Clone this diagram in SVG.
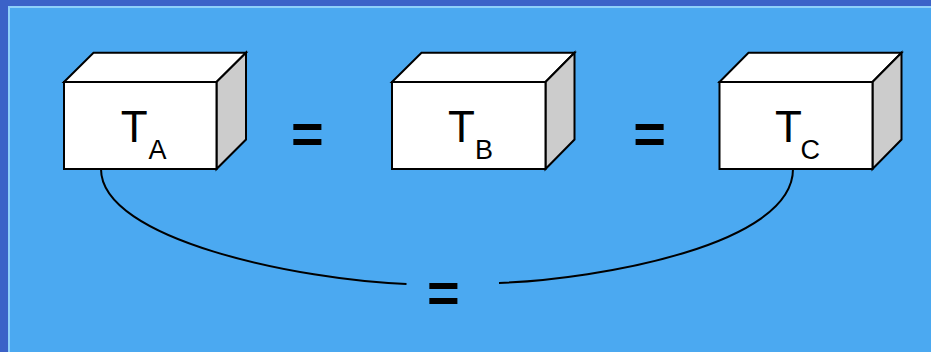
<svg xmlns="http://www.w3.org/2000/svg" width="931" height="352" viewBox="0 0 931 352">
<style>
.front{fill:#ffffff;stroke:#000;stroke-width:2;stroke-linejoin:miter}
.top{fill:#ffffff;stroke:#000;stroke-width:2;stroke-linejoin:miter}
.side{fill:#cccccc;stroke:#000;stroke-width:2;stroke-linejoin:miter}
.t{font-family:"Liberation Sans",Arial,sans-serif;font-size:44px;fill:#000}
.s{font-family:"Liberation Sans",Arial,sans-serif;font-size:27px;fill:#000}
.eq{font-family:"Liberation Sans",Arial,sans-serif;font-size:56px;font-weight:bold;fill:#000;text-anchor:middle}
.con{fill:none;stroke:#000;stroke-width:2}
</style>
<rect x="0" y="0" width="931" height="352" fill="#3b62c8"/>
<rect x="8" y="6" width="923" height="346" fill="#8fd0fa"/>
<rect x="10" y="8" width="921" height="344" fill="#4ba9f1"/>
<g id="boxA">
<polygon class="top" points="64,82 93.5,52.7 246,52.7 216.5,82"/>
<polygon class="side" points="216.5,82 246,52.7 246,139.5 216.5,169"/>
<rect class="front" x="64" y="82" width="152.5" height="87"/>
<text class="t" x="120.7" y="141.7">T</text><text class="s" x="148.5" y="158.5">A</text>
</g>
<g id="boxB">
<polygon class="top" points="392,82 421.5,52.7 574.5,52.7 545.5,82"/>
<polygon class="side" points="545.5,82 574.5,52.7 574.5,139.5 545.5,169"/>
<rect class="front" x="392" y="82" width="153.5" height="87"/>
<text class="t" x="448" y="141.7">T</text><text class="s" x="475" y="158.5">B</text>
</g>
<g id="boxC">
<polygon class="top" points="719.5,82 748.5,52.7 901.5,52.7 872.5,82"/>
<polygon class="side" points="872.5,82 901.5,52.7 901.5,139.5 872.5,169"/>
<rect class="front" x="719.5" y="82" width="153" height="87"/>
<text class="t" x="775" y="141.7">T</text><text class="s" x="800.5" y="158.5">C</text>
</g>
<g id="eq1"><text class="eq" x="307.3" y="153">=</text></g>
<g id="eq2"><text class="eq" x="649.7" y="153">=</text></g>
<g id="connectors">
<path class="con" d="M101,169 C101,240 300,280 406.5,284"/>
<path class="con" d="M499,283 C600,279 793,245 793,169"/>
</g>
<g id="eq3"><text class="eq" x="443.3" y="311.5">=</text></g>
</svg>
